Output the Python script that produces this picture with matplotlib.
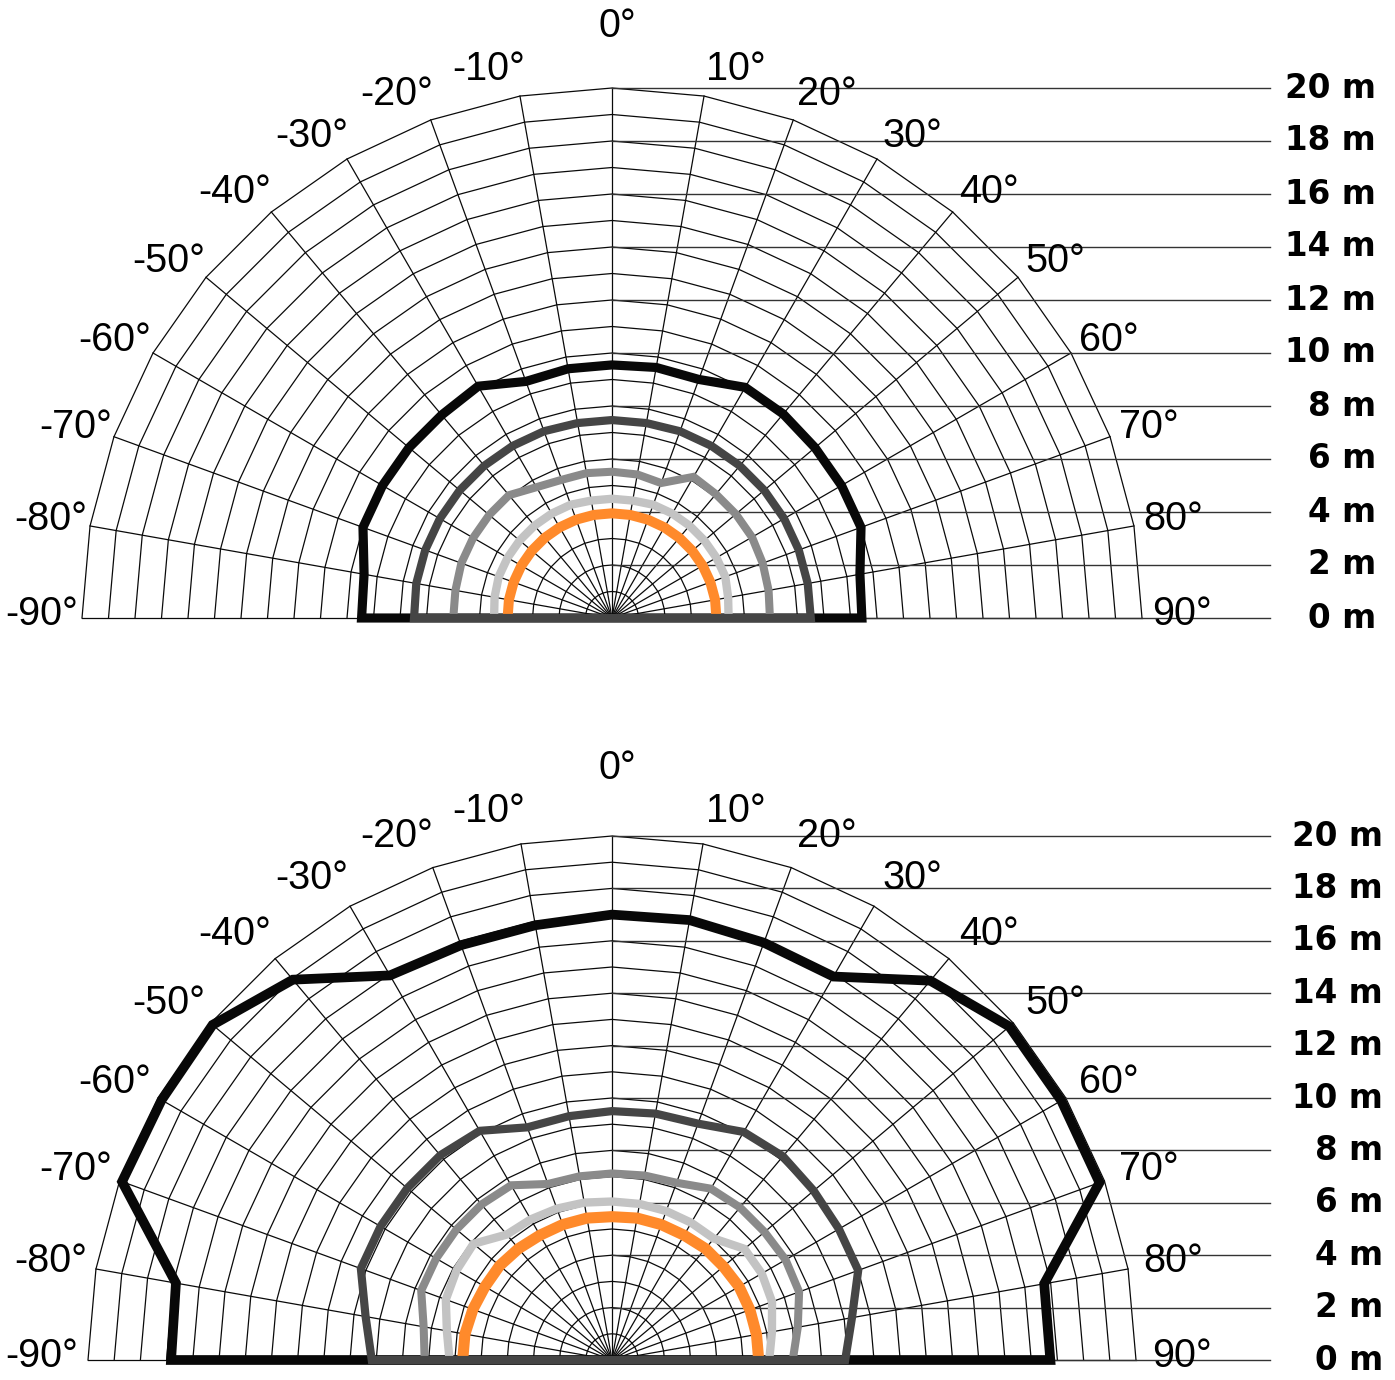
import numpy as np
import matplotlib
matplotlib.use("Agg")
import matplotlib.pyplot as plt
from matplotlib.patches import Polygon

# ---------------- data ----------------
angles_deg = [-90, -80, -70, -60, -50, -40, -30, -20, -10, 0,
              10, 20, 30, 40, 50, 60, 70, 80, 90]
ring_radii = list(range(1, 21))
level_values = [0, 2, 4, 6, 8, 10, 12, 14, 16, 18, 20]
level_labels = [f"{v} m" for v in level_values]
angle_labels = [f"{a}°" for a in angles_deg]

# top chart (distance in m at each angle)
top_black = [9.45, 9.5, 10.0, 10.0, 10.0, 10.0, 10.1, 9.5, 9.55, 9.55,
             9.6, 9.58, 10.05, 10.05, 10.0, 10.0, 10.0, 9.5, 9.43]
top_dark = [7.47, 7.5, 7.5, 7.5, 7.5, 7.5, 7.5, 7.5, 7.47, 7.47,
            7.47, 7.5, 7.5, 7.5, 7.5, 7.5, 7.5, 7.5, 7.5]
top_mid = [5.99, 6.0, 6.05, 6.05, 6.05, 6.05, 5.7, 5.55, 5.55, 5.52,
           5.5, 5.42, 6.15, 6.1, 6.1, 6.1, 6.05, 6.0, 5.96]
top_light = [4.45, 4.5, 4.55, 4.55, 4.55, 4.55, 4.55, 4.55, 4.5, 4.5,
             4.5, 4.55, 4.55, 4.55, 4.55, 4.55, 4.55, 4.45, 4.4]
top_orange = [3.94, 3.95, 3.95, 3.95, 3.95, 3.95, 3.95, 3.95, 3.95, 3.95,
              3.95, 3.95, 3.95, 3.95, 3.95, 3.95, 3.95, 3.95, 3.94]

# bottom chart
bot_black = [16.83, 16.9, 19.9, 19.85, 19.9, 18.95, 16.95, 16.85, 16.85, 17.0,
             17.05, 16.95, 16.9, 18.9, 19.8, 19.8, 19.8, 16.75, 16.73]
bot_dark = [9.17, 9.55, 10.2, 10.2, 10.2, 10.2, 10.1, 9.45, 9.45, 9.5,
            9.55, 9.6, 10.05, 10.15, 10.05, 10.0, 10.0, 9.3, 8.9]
bot_mid = [7.15, 7.3, 7.75, 7.75, 7.75, 7.75, 7.7, 7.15, 7.12, 7.12,
           7.15, 7.2, 7.55, 7.6, 7.6, 7.65, 7.6, 7.2, 6.9]
bot_light = [6.2, 6.4, 6.75, 6.85, 6.9, 6.25, 6.2, 6.15, 6.1, 6.05,
             6.05, 6.05, 6.05, 6.05, 6.6, 6.6, 6.5, 6.2, 6.0]
bot_orange = [5.7, 5.7, 5.65, 5.6, 5.6, 5.55, 5.5, 5.5, 5.5, 5.47,
              5.5, 5.5, 5.5, 5.55, 5.55, 5.6, 5.6, 5.6, 5.6]

# ---------------- style ----------------
colors = {"black": "#080808", "dark": "#454545", "mid": "#8a8a8a",
          "light": "#c3c3c3", "orange": "#ff8a2b"}

W, H = 1395, 1380
fig = plt.figure(figsize=(W / 100, H / 100), dpi=100)

ANG_FONT = dict(family=["Liberation Sans", "DejaVu Sans"], fontsize=28.5)
LVL_FONT = dict(family=["DejaVu Sans"], fontsize=23.5, fontweight="bold")
LABEL_SCALE_REF = 26.5   # px per metre used to place the angle labels


def xy(r, a_deg):
    a = np.radians(a_deg)
    return np.asarray(r) * np.sin(a), np.asarray(r) * np.cos(a)


def draw_chart(ax, series, widths, scale, cy_px, ax_top_px, ax_bot_px,
               line_end, label_x):
    cx_px = 612
    ax.set_xlim(-cx_px / scale, (W - cx_px) / scale)
    ax.set_ylim(-(ax_bot_px - cy_px) / scale, (cy_px - ax_top_px) / scale)
    ax.axis("off")
    k = LABEL_SCALE_REF / scale

    ang = np.array(angles_deg, dtype=float)
    # polygonal rings
    for r in ring_radii:
        x, y = xy(np.full_like(ang, r), ang)
        ax.plot(x, y, color="#0a0a0a", lw=0.9, zorder=1,
                solid_joinstyle="miter")
    # spokes
    for a in angles_deg:
        x, y = xy([0, ring_radii[-1]], a)
        ax.plot(x, y, color="#0a0a0a", lw=0.9, zorder=1)
    # horizontal level lines
    for v, lab in zip(level_values, level_labels):
        ax.plot([0, line_end], [v, v], color="#333333", lw=1.0, zorder=1)
        ax.text(label_x, v, lab, ha="right", va="center", **LVL_FONT)

    # angle labels
    for a, lab in zip(angles_deg, angle_labels):
        if a == 0:
            ax.text(0.2 * k, 22.35 * k, lab, ha="center", va="center",
                    **ANG_FONT)
            continue
        off = np.sign(a) * (3.1 - 0.039 * abs(a))
        rad = (21.55 - 3.2 / abs(a)) * k
        lx, ly = xy(rad, a + off)
        ax.text(lx, ly, lab, ha="center", va="center", **ANG_FONT)

    # curves: black and dark gray closed along the base, others open
    order = ["black", "orange", "light", "mid", "dark"]
    for z, name in enumerate(order):
        r = np.array(series[name])
        x, y = xy(r, ang)
        if name in ("black", "dark"):
            pts = np.column_stack([x, y])
            poly = Polygon(pts, closed=True, fill=False,
                           edgecolor=colors[name], lw=widths[name],
                           joinstyle="miter", zorder=3 + z)
            ax.add_patch(poly)
        else:
            ax.plot(x, y, color=colors[name], lw=widths[name],
                    solid_joinstyle="miter", solid_capstyle="butt",
                    zorder=3 + z)


ax1 = fig.add_axes([0, 690 / H, 1, 690 / H])
draw_chart(ax1,
           {"black": top_black, "dark": top_dark, "mid": top_mid,
            "light": top_light, "orange": top_orange},
           {"black": 6.6, "dark": 5.9, "mid": 5.8, "light": 6.0, "orange": 7.2},
           scale=26.5, cy_px=618, ax_top_px=0, ax_bot_px=690,
           line_end=24.83, label_x=28.83)

ax2 = fig.add_axes([0, 0, 1, 690 / H])
draw_chart(ax2,
           {"black": bot_black, "dark": bot_dark, "mid": bot_mid,
            "light": bot_light, "orange": bot_orange},
           {"black": 7.0, "dark": 5.9, "mid": 5.8, "light": 6.0, "orange": 8.0},
           scale=26.2, cy_px=1360 - 690, ax_top_px=0, ax_bot_px=690,
           line_end=25.1, label_x=29.43)

fig.savefig("out.png", dpi=100, facecolor="white")
